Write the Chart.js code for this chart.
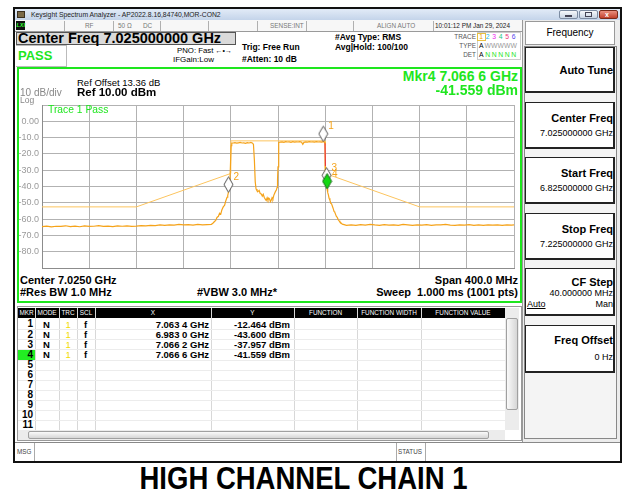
<!doctype html>
<html lang="en">
<head>
<meta charset="utf-8">
<title>HIGH CHANNEL CHAIN 1</title>
<script src="https://cdn.jsdelivr.net/npm/chart.js@4.4.1/dist/chart.umd.min.js"></script>
<style>
  body { margin:0; width:630px; height:494px; position:relative; overflow:hidden; background:#fff;
         font-family:"Liberation Sans", Arial, sans-serif; color:#000; }
  .a { position:absolute; white-space:nowrap; line-height:1; }
  .bx { position:absolute; box-sizing:border-box; }
  .b { font-weight:bold; }
  .tb { font-size:6.4px; color:#777; top:22.5px; }
  .sep { position:absolute; top:21px; width:1px; height:10px; background:#b0b0b0; }
  .sk { position:absolute; left:525px; width:90px; box-sizing:border-box; background:#fff;
        border:1px solid #222; border-right-width:2px; border-bottom-width:2px; }
  .skt { font-size:11px; font-weight:bold; right:17px; }
  .skv { font-size:9px; right:17px; }
  .g { color:#1ee61e; }
  .tc { display:inline-block; width:6.5px; text-align:center; }
</style>
</head>
<body>

<!-- window frame + title bar -->
<div class="bx" style="left:13px;top:7px;width:609px;height:456px;border:2px solid #111"></div>
<div class="bx" style="left:15px;top:9px;width:605px;height:11px;background:linear-gradient(#e2ebf7,#c4d4ea)"></div>
<div class="bx" style="left:17px;top:11px;width:8px;height:7px;background:#7a6a48;border:1px solid #3a3020"></div>
<div class="a" style="left:31px;top:12px;font-size:6.8px;color:#222">Keysight Spectrum Analyzer - AP2022.8.16,84740,MOR-CON2</div>
<div class="bx" style="left:559px;top:10px;width:19px;height:9px;background:linear-gradient(#f6f8fb,#c8d4e3);border:1px solid #7c8ca2;border-radius:2px"></div>
<div class="bx" style="left:565px;top:15px;width:7px;height:2px;background:#445"></div>
<div class="bx" style="left:579px;top:10px;width:19px;height:9px;background:linear-gradient(#f6f8fb,#c8d4e3);border:1px solid #7c8ca2;border-radius:2px"></div>
<div class="bx" style="left:585px;top:12px;width:7px;height:5px;border:1px solid #445"></div>
<div class="bx" style="left:599px;top:10px;width:19px;height:9px;background:linear-gradient(#ea9080,#c2402c);border:1px solid #7a2a1a;border-radius:2px"></div>
<div class="a b" style="left:605px;top:11px;font-size:7px;color:#fff">x</div>

<!-- status toolbar -->
<div class="bx" style="left:15px;top:20px;width:508px;height:12px;background:#f7f7f7;border-bottom:1px solid #9a9a9a"></div>
<div class="bx" style="left:16px;top:21px;width:9px;height:9px;background:#111"></div>
<div class="a b" style="left:16.5px;top:23px;font-size:5.5px;color:#3f3;font-style:italic">LXI</div>
<div class="sep" style="left:64px"></div><div class="sep" style="left:113px"></div>
<div class="sep" style="left:160px"></div><div class="sep" style="left:208px"></div>
<div class="sep" style="left:257px"></div><div class="sep" style="left:306px"></div>
<div class="sep" style="left:353px"></div><div class="sep" style="left:433px"></div>
<div class="a tb" style="left:85px">RF</div>
<div class="a tb" style="left:118px">50 Ω</div>
<div class="a tb" style="left:143px">DC</div>
<div class="a tb" style="left:270px">SENSE:INT</div>
<div class="a tb" style="left:377px">ALIGN AUTO</div>
<div class="a tb" style="left:435px;color:#222">10:01:12 PM Jan 29, 2024</div>

<!-- header area -->
<div class="bx" style="left:16px;top:32px;width:220px;height:13px;background:#dadada;border:1px solid #555"></div>
<div class="a b" style="left:18px;top:31.3px;font-size:14.5px">Center Freq 7.025000000 GHz</div>
<div class="bx" style="left:16px;top:45px;width:51px;height:22px;border:1px solid #bbb;border-left:none"></div>
<div class="a b g" style="left:18px;top:49.3px;font-size:13px">PASS</div>
<div class="a" style="left:177px;top:47px;font-size:7.8px">PNO: Fast <span style="font-size:7px">←•→</span></div>
<div class="a" style="left:173px;top:56px;font-size:8px">IFGain:Low</div>
<div class="a b" style="left:242px;top:42.9px;font-size:8.5px">Trig: Free Run</div>
<div class="a b" style="left:242px;top:54.9px;font-size:8.5px">#Atten: 10 dB</div>
<div class="a b" style="left:335px;top:32.9px;font-size:8.5px">#Avg Type: RMS</div>
<div class="a b" style="left:335px;top:42.9px;font-size:8.5px">Avg|Hold: 100/100</div>
<div class="a" style="right:154px;top:33.7px;font-size:6.4px;color:#555">TRACE</div>
<div class="a" style="right:154px;top:42.7px;font-size:6.4px;color:#555">TYPE</div>
<div class="a" style="right:154px;top:52.2px;font-size:6.4px;color:#555">DET</div>
<div class="bx" style="left:477px;top:32px;width:44px;height:28px;border:1px solid #ccc"></div>
<div class="a" style="left:478px;top:33.7px;font-size:6.8px"><span class="tc" style="color:#f0a000;outline:1px solid #e8c040">1</span><span class="tc" style="color:#20b8ee">2</span><span class="tc" style="color:#ee22ee">3</span><span class="tc" style="color:#22c880">4</span><span class="tc" style="color:#ee3377">5</span><span class="tc" style="color:#5544ee">6</span></div>
<div class="a" style="left:478px;top:42.7px;font-size:6.8px"><span class="tc">A</span><span class="tc" style="color:#999">W</span><span class="tc" style="color:#999">W</span><span class="tc" style="color:#999">W</span><span class="tc" style="color:#999">W</span><span class="tc" style="color:#999">W</span></div>
<div class="a" style="left:478px;top:52.2px;font-size:6.8px"><span class="tc">A</span><span class="tc g">N</span><span class="tc g">N</span><span class="tc g">N</span><span class="tc g">N</span><span class="tc g">N</span></div>

<!-- plot panel -->
<div class="bx" style="left:17px;top:67px;width:505px;height:236px;border:2px solid #1ee61e"></div>
<canvas id="trace" class="bx" width="502" height="175" style="left:18px;top:99px"></canvas>
<div class="a" style="left:77px;top:77.8px;font-size:9.5px">Ref Offset 13.36 dB</div>
<div class="a b" style="left:77px;top:86.5px;font-size:11.5px">Ref 10.00 dBm</div>
<div class="a" style="left:20px;top:87.7px;font-size:10px;color:#888">10 dB/div</div>
<div class="a" style="left:20px;top:96.3px;font-size:8.5px;color:#888">Log</div>
<div id="mkrF" class="a b g" style="right:112px;top:69.2px;font-size:14px"></div>
<div id="mkrA" class="a b g" style="right:112px;top:83.2px;font-size:14px"></div>
<div class="a g" style="left:48px;top:104.7px;font-size:10.3px">Trace 1 Pass</div>
<div class="a b" style="left:20px;top:274.6px;font-size:11px">Center 7.0250 GHz</div>
<div class="a b" style="right:112px;top:274.6px;font-size:11px">Span 400.0 MHz</div>
<div class="a b" style="left:20px;top:286.6px;font-size:11px">#Res BW 1.0 MHz</div>
<div class="a b" style="left:197px;top:286.6px;font-size:11px">#VBW 3.0 MHz*</div>
<div class="a b" style="right:112px;top:286.6px;font-size:11px">Sweep&nbsp;&nbsp;1.000 ms (1001 pts)</div>

<!-- marker table -->
<div class="bx" style="left:17px;top:306px;width:505px;height:135px;border:1px solid #999"></div>
<div id="tbl"></div>
<div class="bx" style="left:505px;top:308px;width:14px;height:122px;background:#ececec"></div>
<div class="bx" style="left:506px;top:318px;width:12px;height:92px;background:linear-gradient(90deg,#fafafa,#d6d6d6);border:1px solid #a0a0a0;border-radius:2px"></div>
<div class="bx" style="left:18px;top:430px;width:487px;height:10px;background:#ececec"></div>
<div class="bx" style="left:28px;top:431px;width:461px;height:8px;background:linear-gradient(#fafafa,#d6d6d6);border:1px solid #a0a0a0;border-radius:2px"></div>

<!-- message bar -->
<div class="bx" style="left:15px;top:442px;width:605px;height:19px;border-top:1px solid #888;background:#fff"></div>
<div class="bx" style="left:34px;top:443px;width:1px;height:18px;background:#aaa"></div>
<div class="bx" style="left:396px;top:443px;width:1px;height:18px;background:#aaa"></div>
<div class="bx" style="left:425px;top:443px;width:1px;height:18px;background:#aaa"></div>
<div class="a" style="left:17px;top:448.5px;font-size:6.3px;color:#444">MSG</div>
<div class="a" style="left:398px;top:448.5px;font-size:6.3px;color:#444">STATUS</div>

<!-- softkey panel -->
<div class="bx" style="left:522px;top:20px;width:98px;height:422px;background:#ececec;border-left:1px solid #999"></div>
<div class="bx" style="left:525px;top:21px;width:90px;height:24px;background:#fff;border:1px solid #999"></div>
<div class="a" style="left:525px;width:90px;text-align:center;top:28.2px;font-size:10px">Frequency</div>
<div class="bx" style="left:524px;top:46px;width:93px;height:393px;border:1px solid #888;background:#f4f4f4"></div>
<div class="sk" style="top:47px;height:46px"></div>
<div class="a skt" style="top:64.6px">Auto Tune</div>
<div class="sk" style="top:102px;height:47px"></div>
<div class="a skt" style="top:112.6px">Center Freq</div>
<div class="a skv" style="top:128.5px">7.025000000 GHz</div>
<div class="sk" style="top:157px;height:47px"></div>
<div class="a skt" style="top:167.6px">Start Freq</div>
<div class="a skv" style="top:183.5px">6.825000000 GHz</div>
<div class="sk" style="top:213px;height:47px"></div>
<div class="a skt" style="top:223.6px">Stop Freq</div>
<div class="a skv" style="top:239.5px">7.225000000 GHz</div>
<div class="sk" style="top:268px;height:48px"></div>
<div class="a skt" style="top:276.6px">CF Step</div>
<div class="a skv" style="top:288.5px">40.000000 MHz</div>
<div class="a" style="left:527px;top:299.5px;font-size:9px;text-decoration:underline">Auto</div>
<div class="a skv" style="top:299.5px">Man</div>
<div class="sk" style="top:325px;height:48px"></div>
<div class="a skt" style="top:334.6px">Freq Offset</div>
<div class="a skv" style="top:352.5px">0 Hz</div>

<div class="a b" style="left:0;width:607px;text-align:center;top:462px;font-size:27.5px;transform:scaleY(1.17);transform-origin:0 0">HIGH CHANNEL CHAIN 1</div>

<script>
// axis divisions (GHz / dBm)
const xGridGHz = [6.825, 6.865, 6.905, 6.945, 6.985, 7.025, 7.065, 7.105, 7.145, 7.185, 7.225];
const yGridDbm = [-90, -80, -70, -60, -50, -40, -30, -20, -10, 0, 10];
const yTickLabels = ['', '-80.0', '-70.0', '-60.0', '-50.0', '-40.0', '-30.0', '-20.0', '-10.0', '0.00', ''];

// limit mask
const maskGHz = [6.825, 6.905, 6.985, 6.985, 7.065, 7.065, 7.145, 7.225];
const maskDbm = [-52.5, -52.5, -32, -12, -12, -32, -52.5, -52.5];

// trace 1
const traceGHz = [
  6.825, 6.829, 6.833, 6.837, 6.841, 6.845, 6.849, 6.853, 6.857, 6.861, 6.865, 6.869,
  6.873, 6.877, 6.881, 6.885, 6.889, 6.893, 6.897, 6.901, 6.905, 6.909, 6.913, 6.917,
  6.921, 6.925, 6.929, 6.933, 6.937, 6.941, 6.945, 6.949, 6.953, 6.957, 6.961, 6.965,
  6.9686, 6.9700, 6.9712, 6.9722, 6.9733, 6.9745, 6.9755, 6.9765, 6.9775, 6.9787, 6.9797,
  6.9808, 6.9818, 6.9824, 6.9830, 6.9837, 6.9843, 6.9848, 6.9853, 6.9858,
  6.9870, 6.9885, 6.9900, 6.9915, 6.9930, 6.9945, 6.9960, 6.9975, 6.9990, 7.0005, 7.0020,
  7.0035, 7.0042,
  7.0050, 7.0057, 7.0064, 7.0072, 7.0081, 7.0090, 7.0099, 7.0108, 7.0117, 7.0125, 7.0133,
  7.0142, 7.0150, 7.0158, 7.0165, 7.0172, 7.0179, 7.0186, 7.0192, 7.0200, 7.0207, 7.0215,
  7.0222, 7.0229, 7.0236, 7.0242, 7.0246, 7.0250, 7.0254, 7.0258,
  7.0270, 7.0285, 7.0300, 7.0315, 7.0330, 7.0345, 7.0360, 7.0375, 7.0390, 7.0405, 7.0420,
  7.0435, 7.0450, 7.0460, 7.0470, 7.0485, 7.0500, 7.0515, 7.0530, 7.0545, 7.0560, 7.0575,
  7.0590, 7.0605, 7.0620, 7.0634, 7.0642, 7.0648, 7.0652, 7.0657, 7.0662, 7.0666,
  7.0671, 7.0677, 7.0683, 7.0690, 7.0697, 7.0704, 7.0711, 7.0718, 7.0725, 7.0731, 7.0738,
  7.0745, 7.0752, 7.0760, 7.0767, 7.0775, 7.0785, 7.0795, 7.0810, 7.0830,
  7.087, 7.091, 7.095, 7.099, 7.103, 7.107, 7.111, 7.115, 7.119, 7.123, 7.127, 7.131,
  7.135, 7.139, 7.143, 7.147, 7.151, 7.155, 7.159, 7.163, 7.167, 7.171, 7.175, 7.179,
  7.183, 7.187, 7.191, 7.195, 7.199, 7.203, 7.207, 7.211, 7.215, 7.219, 7.223, 7.225
];
const traceDbm = [
  -64.6, -64.3, -64.8, -64.4, -64.5, -64.1, -64.6, -64.3, -64.7, -64.2, -64.5, -64.4,
  -64.0, -64.5, -64.3, -64.6, -64.2, -64.4, -64.1, -64.5, -64.3, -64.0, -64.2, -63.8,
  -64.0, -63.6, -63.9, -63.5, -63.7, -63.3, -63.6, -63.4, -63.7, -63.3, -63.6, -63.4,
  -63.2, -62.4, -61.5, -60.8, -59.0, -58.3, -56.4, -56.9, -54.2, -52.4, -51.6,
  -48.7, -46.6, -45.5, -43.6, -41.2, -35.5, -25.0, -15.0, -13.4,
  -13.3, -13.1, -13.4, -13.2, -13.0, -13.3, -13.2, -13.5, -13.1, -13.3, -13.0,
  -13.4, -14.2,
  -24.0, -37.0, -41.5, -42.6, -43.1, -42.4, -44.3, -44.6, -45.9, -44.8, -46.6,
  -47.8, -48.6, -46.9, -48.3, -47.1, -47.7, -49.3, -48.5, -46.8, -47.6, -45.3,
  -44.1, -43.0, -42.2, -40.6, -36.0, -28.0, -18.0, -13.0,
  -12.8, -12.6, -12.9, -12.5, -12.7, -12.6, -12.9, -12.5, -12.8, -12.6, -12.7,
  -12.5, -12.8, -14.1, -12.9, -12.6, -12.8, -12.5, -12.7, -12.6, -12.8, -12.5,
  -12.7, -12.6, -12.8, -12.464, -12.7, -13.4, -27.5, -33.4, -37.957, -41.559,
  -43.6, -45.1, -47.2, -48.4, -50.3, -50.6, -52.1, -53.6, -55.3, -55.7, -57.1,
  -58.4, -58.9, -60.3, -61.0, -61.9, -62.4, -63.1, -63.4, -63.8,
  -63.5, -63.8, -63.4, -63.7, -63.3, -63.6, -63.8, -63.4, -63.7, -63.5, -63.8, -63.3,
  -63.6, -63.9, -63.5, -63.7, -63.4, -63.8, -63.5, -63.6, -63.2, -63.7, -63.9, -63.5,
  -63.7, -63.4, -63.8, -63.6, -63.9, -63.5, -63.7, -63.6, -63.8, -63.5, -63.7, -63.6
];
// stretch of the trace shown in red
const failBandGHz = [7.0647, 7.0653];

// markers
const markerNames = ['1', '2', '3', '4'];
const markerGHz = [7.0634, 6.9830, 7.0662, 7.0666];
const markerDbm = [-12.464, -43.600, -37.957, -41.559];
const activeMarker = 3;

const ORANGE = '#f5a31a';

function fmtGHz(v) { const s = v.toFixed(4); return s.slice(0, -1) + ' ' + s.slice(-1) + ' GHz'; }
function fmtDbm(v) { return v.toFixed(3) + ' dBm'; }

document.getElementById('mkrF').textContent = 'Mkr' + markerNames[activeMarker] + ' ' + fmtGHz(markerGHz[activeMarker]);
document.getElementById('mkrA').textContent = fmtDbm(markerDbm[activeMarker]);

// marker table
(function () {
  const tbl = document.getElementById('tbl');
  const cols = [18, 35, 59, 77, 95, 211, 294, 357, 421, 505];
  const heads = ['MKR', 'MODE', 'TRC', 'SCL', 'X', 'Y', 'FUNCTION', 'FUNCTION WIDTH', 'FUNCTION VALUE'];
  let h = '<div class="bx" style="left:18px;top:308px;width:487px;height:10px;background:#000"></div>';
  heads.forEach((t, i) => {
    h += '<div class="a" style="left:' + cols[i] + 'px;width:' + (cols[i + 1] - cols[i]) + 'px;text-align:center;top:309.8px;font-size:6.4px;color:#fff">' + t + '</div>';
    if (i > 0) h += '<div class="bx" style="left:' + cols[i] + 'px;top:308px;width:1px;height:122px;background:' + '#d8d8d8' + '"></div>';
  });
  for (let r = 0; r < 11; r++) {
    const cy = 324.3 + r * 10.07;
    h += '<div class="bx" style="left:18px;top:' + (cy + 5).toFixed(1) + 'px;width:487px;height:1px;background:#ececec"></div>';
    if (r === activeMarker) h += '<div class="bx" style="left:18px;top:' + (cy - 5).toFixed(1) + 'px;width:17px;height:10px;background:#22ee22"></div>';
    h += '<div class="a b" style="right:' + (630 - 33) + 'px;top:' + (cy - 4.9).toFixed(1) + 'px;font-size:10px">' + (r + 1) + '</div>';
    if (r < markerNames.length) {
      const t = (cy - 4.6).toFixed(1);
      h += '<div class="a b" style="left:43px;top:' + t + 'px;font-size:9.5px">N</div>';
      h += '<div class="a" style="left:65.5px;top:' + t + 'px;font-size:9.5px;color:#f2dc00">1</div>';
      h += '<div class="a b" style="left:84px;top:' + t + 'px;font-size:9.5px">f</div>';
      h += '<div class="a b" style="right:' + (630 - 209) + 'px;top:' + t + 'px;font-size:9.5px">' + fmtGHz(markerGHz[r]) + '</div>';
      h += '<div class="a b" style="right:' + (630 - 290) + 'px;top:' + t + 'px;font-size:9.5px">' + fmtDbm(markerDbm[r]) + '</div>';
    }
  }
  tbl.innerHTML = h;
})();

// diamond marker symbols, tip sits on the data point
function diamond(fill, stroke) {
  const c = document.createElement('canvas');
  c.width = 11; c.height = 34;
  const g = c.getContext('2d');
  g.beginPath();
  g.moveTo(5.5, 1.5); g.lineTo(10, 9.2); g.lineTo(5.5, 17); g.lineTo(1, 9.2); g.closePath();
  g.fillStyle = fill; g.fill();
  g.lineWidth = 1; g.strokeStyle = stroke; g.stroke();
  return c;
}
const markerImgs = markerNames.map((n, i) => i === activeMarker ? diamond('#12d812', '#1a6a1a') : diamond('#ffffff', '#555555'));

const markerText = {
  id: 'markerText',
  afterDatasetsDraw(chart) {
    const { ctx, scales: { x, y } } = chart;
    ctx.save();
    ctx.font = '10px "Liberation Sans", Arial';
    ctx.fillStyle = ORANGE;
    ctx.textBaseline = 'middle';
    markerNames.forEach((n, i) => {
      ctx.fillText(n, x.getPixelForValue(markerGHz[i]) + 5, y.getPixelForValue(markerDbm[i]) - 15);
    });
    ctx.restore();
  }
};

new Chart(document.getElementById('trace'), {
  type: 'line',
  data: {
    datasets: [
      {
        order: 0, showLine: false,
        data: markerGHz.map((f, i) => ({ x: f, y: markerDbm[i] })),
        pointStyle: markerImgs, pointRadius: 5
      },
      {
        order: 1,
        data: traceGHz.map((f, i) => ({ x: f, y: traceDbm[i] })),
        borderColor: ORANGE, borderWidth: 1.2, pointRadius: 0, tension: 0,
        segment: {
          borderColor: s => (s.p0.parsed.x >= failBandGHz[0] && s.p1.parsed.x <= failBandGHz[1]) ? '#e8383d' : undefined
        }
      },
      {
        order: 2,
        data: maskGHz.map((f, i) => ({ x: f, y: maskDbm[i] })),
        borderColor: '#fcc45e', borderWidth: 1, pointRadius: 0, tension: 0
      }
    ]
  },
  options: {
    responsive: false,
    animation: false,
    events: [],
    layout: { padding: { top: 1, right: 2, bottom: 2, left: 0 } },
    plugins: { legend: { display: false }, tooltip: { enabled: false } },
    scales: {
      x: {
        type: 'linear', min: xGridGHz[0], max: xGridGHz[xGridGHz.length - 1],
        afterBuildTicks: s => { s.ticks = xGridGHz.map(v => ({ value: v })); },
        ticks: { display: false },
        grid: { color: '#b2b2b2', drawTicks: false },
        border: { color: '#8c8c8c' },
        afterFit: s => { s.height = 0; s.paddingLeft = 0; s.paddingRight = 0; }
      },
      y: {
        min: yGridDbm[0], max: yGridDbm[yGridDbm.length - 1],
        afterBuildTicks: s => { s.ticks = yGridDbm.map(v => ({ value: v })); },
        ticks: {
          color: '#9a9a9a', padding: 3,
          font: { size: 9, family: '"Liberation Sans", Arial' },
          callback: v => yTickLabels[yGridDbm.indexOf(v)]
        },
        grid: { color: '#b2b2b2', drawTicks: false },
        border: { color: '#8c8c8c' },
        afterFit: s => { s.width = 24; s.paddingTop = 0; s.paddingBottom = 0; }
      }
    }
  },
  plugins: [markerText]
});
</script>
</body>
</html>
